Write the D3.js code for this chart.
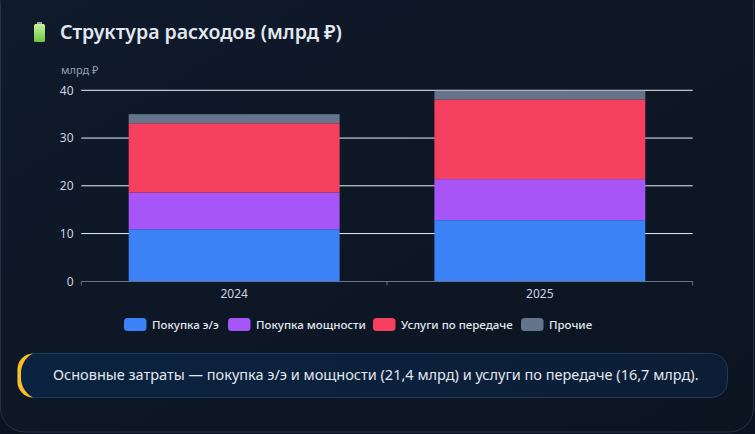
<!DOCTYPE html>
<html><head><meta charset="utf-8">
<script src="https://cdn.jsdelivr.net/npm/d3@7"></script>
<style>
html,body{margin:0;padding:0;background:#0b1220;width:755px;height:434px;overflow:hidden;}
svg{display:block;font-family:"Noto Sans","Open Sans",sans-serif;}
</style></head>
<body>
<svg id="c" width="755" height="434"></svg>
<script>
const categories = ["2024", "2025"];
const seriesNames = ["Покупка э/э", "Покупка мощности", "Услуги по передаче", "Прочие"];
const pokupkaEE = [10.9, 12.8];
const pokupkaMoshnosti = [7.7, 8.6];
const uslugiPeredachi = [14.5, 16.7];
const prochie = [1.9, 1.8];
const yTicks = [0, 10, 20, 30, 40];
const seriesColors = ["#3b82f6", "#a855f7", "#f43f5e", "#64748b"];
const titleText = "Структура расходов (млрд ₽)";
const yAxisTitle = "млрд ₽";
const noteText = "Основные затраты — покупка э/э и мощности (21,4 млрд) и услуги по передаче (16,7 млрд).";

const svg = d3.select("#c");
const defs = svg.append("defs");
const cg = defs.append("linearGradient").attr("id","cardg").attr("x1","0").attr("y1","0").attr("x2","1").attr("y2","1");
cg.append("stop").attr("offset","0").attr("stop-color","#0f1a2b");
cg.append("stop").attr("offset","1").attr("stop-color","#0c1420");
const ng = defs.append("linearGradient").attr("id","noteg").attr("x1","0").attr("y1","0").attr("x2","1").attr("y2","0");
ng.append("stop").attr("offset","0").attr("stop-color","#0b2340");
ng.append("stop").attr("offset","1").attr("stop-color","#0c1e36");
const bg = defs.append("linearGradient").attr("id","batg").attr("x1","0").attr("y1","0").attr("x2","0").attr("y2","1");
bg.append("stop").attr("offset","0").attr("stop-color","#c8f59a");
bg.append("stop").attr("offset","1").attr("stop-color","#6cc644");

// card
svg.append("rect").attr("x",0.5).attr("y",-20).attr("width",753).attr("height",452)
  .attr("rx",24).attr("fill","url(#cardg)").attr("stroke","#24344a").attr("stroke-width",1);

// battery icon
const bat = svg.append("g").attr("transform","translate(34,22)");
bat.append("rect").attr("x",3).attr("y",0).attr("width",5).attr("height",2).attr("fill","#9ca3af");
bat.append("rect").attr("x",0).attr("y",2).attr("width",11).attr("height",18).attr("rx",1.5).attr("fill","url(#batg)");

svg.append("text").attr("x",60).attr("y",39).attr("fill","#e2e8f0")
  .attr("font-size",19.5).attr("font-weight",600).text(titleText);

svg.append("text").attr("x",61).attr("y",74).attr("fill","#94a3b8").attr("font-size",11).text(yAxisTitle);

const x = d3.scaleBand().domain(categories).range([81.3, 692.7]).padding(0);
const y = d3.scaleLinear().domain([0, 40]).range([281.3, 90.3]);
const barFrac = 0.69;

// gridlines
svg.append("g").selectAll("line").data(yTicks.filter(t=>t>0)).join("line")
  .attr("x1",x.range()[0]).attr("x2",x.range()[1])
  .attr("y1",d=>y(d)).attr("y2",d=>y(d)).attr("stroke","#eef2f7").attr("stroke-width",1);

// y labels
svg.append("g").selectAll("text").data(yTicks).join("text")
  .attr("x",73.5).attr("y",d=>y(d)).attr("dy","0.35em").attr("text-anchor","end")
  .attr("fill","#cbd5e1").attr("font-size",12).text(d=>d);

// stacked data
const table = categories.map((c,i)=>({cat:c, s0:pokupkaEE[i], s1:pokupkaMoshnosti[i], s2:uslugiPeredachi[i], s3:prochie[i]}));
const stack = d3.stack().keys(["s0","s1","s2","s3"])(table);
const bw = x.bandwidth()*barFrac;
svg.append("g").selectAll("g").data(stack).join("g").attr("fill",(d,i)=>seriesColors[i])
  .selectAll("rect").data(d=>d).join("rect")
  .attr("x",d=>x(d.data.cat)+(x.bandwidth()-bw)/2).attr("width",bw)
  .attr("y",d=>y(d[1])).attr("height",d=>y(d[0])-y(d[1]));

// x axis
const xa = svg.append("g");
xa.append("line").attr("x1",x.range()[0]).attr("x2",x.range()[1]).attr("y1",281.5).attr("y2",281.5)
  .attr("stroke","#64748b").attr("stroke-width",1);
const bounds = categories.map(c=>x(c)).concat([x(categories[categories.length-1])+x.bandwidth()]);
xa.selectAll("line.t").data(bounds).join("line").attr("class","t")
  .attr("x1",d=>d).attr("x2",d=>d).attr("y1",281.5).attr("y2",285.5).attr("stroke","#64748b");
xa.selectAll("text").data(categories).join("text")
  .attr("x",d=>x(d)+x.bandwidth()/2).attr("y",294).attr("dy","0.35em").attr("text-anchor","middle")
  .attr("fill","#cbd5e1").attr("font-size",12).text(d=>d);

// legend
const lg = svg.append("g");
const legX = [124, 228, 373, 521];
seriesNames.forEach((n,i)=>{
  lg.append("rect").attr("x",legX[i]).attr("y",318).attr("width",22.5).attr("height",13).attr("rx",3.5).attr("fill",seriesColors[i]);
  lg.append("text").attr("x",legX[i]+28).attr("y",324.5).attr("dy","0.35em").attr("fill","#e2e8f0")
    .attr("font-size",11.5).attr("font-weight",500).text(n);
});

// note
svg.append("rect").attr("x",17.5).attr("y",353.5).attr("width",710).attr("height",44).attr("rx",16)
  .attr("fill","url(#noteg)").attr("stroke","#1e3a5f");
svg.append("path").attr("d","M33,353.5 A16,16 0 0 0 17.5,369.5 L17.5,381.5 A16,16 0 0 0 33,397.5 A20,22 0 0 1 21,375.5 A20,22 0 0 1 33,353.5 Z")
  .attr("fill","#fbbf24");
svg.append("text").attr("x",53).attr("y",375).attr("dy","0.35em").attr("fill","#e2e8f0")
  .attr("font-size",14.5).text(noteText);
</script>
</body></html>
